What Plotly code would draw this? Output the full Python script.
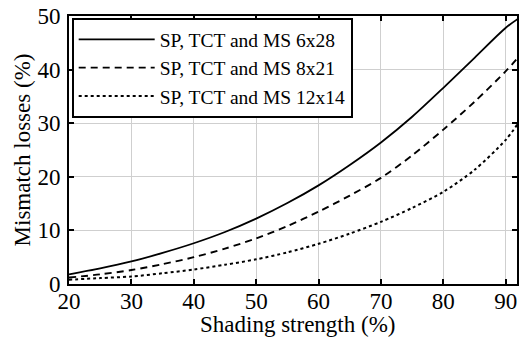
import plotly.graph_objects as go

# Shading strength (%) and mismatch losses (%) for the three array layouts
shading = [20, 25, 30, 35, 40, 45, 50, 55, 60, 65, 70, 75, 80, 85, 90, 92]
loss_6x28 = [1.8, 2.9, 4.2, 5.8, 7.6, 9.7, 12.2, 15.1, 18.4, 22.2, 26.4, 31.2, 36.6, 42.2, 47.8, 49.5]
loss_8x21 = [1.2, 1.8, 2.6, 3.7, 5.0, 6.6, 8.5, 10.8, 13.5, 16.5, 19.8, 24.0, 28.8, 34.0, 39.7, 42.3]
loss_12x14 = [0.8, 1.1, 1.4, 2.0, 2.7, 3.6, 4.6, 5.9, 7.5, 9.4, 11.6, 14.2, 17.2, 21.3, 26.9, 30.0]

names = ["SP, TCT and MS 6x28", "SP, TCT and MS 8x21", "SP, TCT and MS 12x14"]
series = [loss_6x28, loss_8x21, loss_12x14]
dashes = ["solid", "7px,5px", "dot"]
widths = [1.8, 1.9, 2.0]

FONT = "Liberation Serif"
AXIS_FONT = dict(family=FONT, size=23, color="black")

fig = go.Figure()
for name, ys, dash, w in zip(names, series, dashes, widths):
    fig.add_trace(go.Scatter(
        x=shading, y=ys, name=name, mode="lines",
        line=dict(color="black", width=w, dash=dash, shape="spline", smoothing=0.8),
    ))

axis_common = dict(
    showline=True, linecolor="black", linewidth=2, mirror="ticks",
    ticks="inside", ticklen=5, tickwidth=1.5, tickcolor="black",
    showgrid=True, gridcolor="#cfcfcf", gridwidth=1, zeroline=False,
    tickfont=AXIS_FONT,
)

fig.update_layout(
    width=520, height=342,
    margin=dict(l=69, r=1, t=16, b=58),
    paper_bgcolor="white", plot_bgcolor="white",
    font=dict(family=FONT, size=19.5, color="black"),
    showlegend=True,
    legend=dict(
        x=0.006, y=0.992, xanchor="left", yanchor="top",
        bgcolor="white", bordercolor="black", borderwidth=2,
        font=dict(family=FONT, size=19.5, color="black"),
        tracegroupgap=0, itemwidth=76,
    ),
    xaxis=dict(
        range=[20, 91.8], tickmode="array", tickvals=[20, 30, 40, 50, 60, 70, 80, 90],
        ticklabelstandoff=-5,
        **axis_common,
    ),
    yaxis=dict(
        range=[0, 50], tickmode="array", tickvals=[0, 10, 20, 30, 40, 50],
        ticklabelstandoff=2,
        title=dict(text="Mismatch losses (%)", standoff=0, font=AXIS_FONT),
        **axis_common,
    ),
    annotations=[dict(
        text="Shading strength (%)", xref="paper", yref="paper",
        x=0.5, y=0, xanchor="center", yanchor="top",
        xshift=4, yshift=-26, showarrow=False, font=AXIS_FONT,
    )],
)

fig.write_html("out.html")
